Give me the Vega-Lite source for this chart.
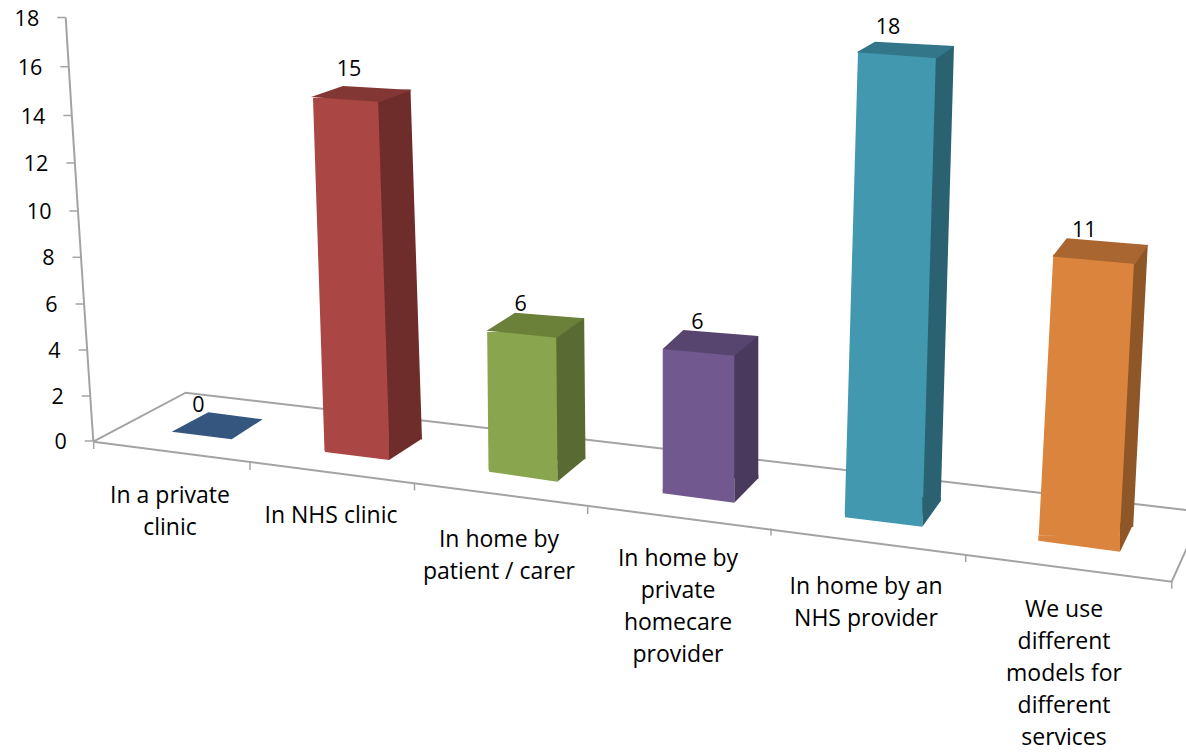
{"$schema":"https://vega.github.io/schema/vega-lite/v6.json","width":1186,"height":752,"padding":0,"autosize":{"type":"none"},"background":"white","config":{"view":{"stroke":null},"text":{"font":"Open Sans","fontSize":21.5,"color":"#000000"}},
"datasets":{
"bars":[
{"model":"private clinic","label":"In a private\nclinic","value":0},
{"model":"nhs clinic","label":"In NHS clinic","value":15},
{"model":"patient","label":"In home by\npatient / carer","value":6},
{"model":"private homecare","label":"In home by\nprivate\nhomecare\nprovider","value":6},
{"model":"nhs provider","label":"In home by an\nNHS provider","value":18},
{"model":"different","label":"We use\ndifferent\nmodels for\ndifferent\nservices","value":11}],
"frame":[{"corner":0},{"corner":1},{"corner":2},{"corner":3},{"corner":4}],
"boundaries":[{"b":0},{"b":1},{"b":2},{"b":3},{"b":4},{"b":5},{"b":6}],
"ticks":[{"t":0},{"t":2},{"t":4},{"t":6},{"t":8},{"t":10},{"t":12},{"t":14},{"t":16},{"t":18}]},
"layer":[
{"data":{"name":"frame"},"mark":{"type":"line","color":"#a3a3a3","strokeWidth":2,"clip":true},"encoding":{"x":{"field":"corner","type":"quantitative","axis":null,"scale":{"domain":[0,1,2,3,4],"range":[93.3,1171.7,1203,185.7,93.3]}},"y":{"field":"corner","type":"quantitative","axis":null,"scale":{"domain":[0,1,2,3,4],"range":[441.7,581.7,512,392.7,441.7]}},"order":{"field":"corner"}}},
{"data":{"name":"boundaries"},"mark":{"type":"point","shape":"M0 0L0 7","size":4,"filled":false,"color":"#a3a3a3","strokeWidth":1.5,"opacity":1},"encoding":{"x":{"field":"b","type":"quantitative","axis":null,"scale":{"domain":[0,1,2,3,4,5,6],"range":[93.7,250,414.5,587.7,771,965.7,1171.7]}},"y":{"field":"b","type":"quantitative","axis":null,"scale":{"domain":[0,1,2,3,4,5,6],"range":[442,463,483.5,507,528.5,555,581.7]}}}},
{"data":{"name":"ticks"},"encoding":{"x":{"field":"t","type":"quantitative","axis":null,"scale":{"domain":[0,18],"range":[93.3,65.7]}},"y":{"field":"t","type":"quantitative","axis":null,"scale":{"domain":[0,2,4,6,8,10,12,14,16,18],"range":[441,396,350,304,257.3,211,163,115.5,66.7,17.5]}}},"layer":[
{"mark":{"type":"line","color":"#a3a3a3","strokeWidth":2},"encoding":{"order":{"field":"t"}}},
{"mark":{"type":"point","shape":"M-8.5 0L0 0","size":4,"filled":false,"color":"#a3a3a3","strokeWidth":1.5,"opacity":1}},
{"mark":{"type":"text","align":"right","baseline":"middle","xOffset":-26.5,"yOffset":2},"encoding":{"text":{"field":"t","type":"quantitative"}}}]},
{"data":{"name":"bars"},"transform":[{"filter":{"field":"model","equal":"private clinic"}}],"encoding":{"x":{"field":"value","type":"quantitative","axis":null,"scale":{"domain":[0,18],"range":[201.7,195]}},"y":{"field":"value","type":"quantitative","axis":null,"scale":{"domain":[0,18],"range":[435.5,12.5]}}},"layer":[
{"mark":{"type":"point","shape":"M-30 -3.8L6.6 -23.2L61 -16.2L30 3.8Z","size":4,"filled":true,"color":"#35577f","opacity":1,"strokeWidth":0}},
{"mark":{"type":"text","align":"center","baseline":"middle","xOffset":-3.4,"yOffset":-30},"encoding":{"text":{"field":"value","type":"quantitative"}}},
{"mark":{"type":"text","align":"center","baseline":"top","fontSize":23,"lineBreak":"\n","lineHeight":32,"xOffset":-31.7,"yOffset":49.5},"encoding":{"text":{"field":"label"}}}]},
{"data":{"name":"bars"},"transform":[{"filter":{"field":"model","equal":"nhs clinic"}}],"encoding":{"x":{"field":"value","type":"quantitative","axis":null,"scale":{"domain":[0,18],"range":[357,343.2]}},"y":{"field":"value","type":"quantitative","axis":null,"scale":{"domain":[0,18],"range":[456,28.2]}}},"layer":[
{"mark":{"type":"rule","color":"#6e2c2a","strokeWidth":34,"xOffset":48,"x2Offset":48,"yOffset":-9.5,"y2Offset":-16},"encoding":{"x2":{"datum":0},"y2":{"datum":0}}},
{"mark":{"type":"rule","color":"#aa4643","strokeWidth":65,"yOffset":-2.5,"y2Offset":-6},"encoding":{"x2":{"datum":0},"y2":{"datum":0}}},
{"mark":{"type":"point","shape":"M32 4L63 -16L63 -20L32 -20Z","size":4,"filled":true,"color":"#6e2c2a","opacity":1,"strokeWidth":0},"encoding":{"x":{"datum":0,"type":"quantitative"},"y":{"datum":0,"type":"quantitative"}}},
{"mark":{"type":"point","shape":"M-32 -4L32 4L32 -8L-32 -8Z","size":4,"filled":true,"color":"#aa4643","opacity":1,"strokeWidth":0},"encoding":{"x":{"datum":0,"type":"quantitative"},"y":{"datum":0,"type":"quantitative"}}},
{"mark":{"type":"point","shape":"M-34.5 -2.5L-2.5 -13.5L66.5 -9.5L34.5 2.5Z","size":4,"filled":true,"color":"#833735","opacity":1,"strokeWidth":0}},
{"mark":{"type":"text","align":"center","baseline":"middle","xOffset":3.5,"yOffset":-30},"encoding":{"text":{"field":"value","type":"quantitative"}}},
{"mark":{"type":"text","align":"center","baseline":"top","fontSize":23,"lineBreak":"\n","lineHeight":32,"xOffset":-26,"yOffset":49},"encoding":{"x":{"datum":0,"type":"quantitative"},"y":{"datum":0,"type":"quantitative"},"text":{"field":"label"}}}]},
{"data":{"name":"bars"},"transform":[{"filter":{"field":"model","equal":"patient"}}],"encoding":{"x":{"field":"value","type":"quantitative","axis":null,"scale":{"domain":[0,18],"range":[523,519]}},"y":{"field":"value","type":"quantitative","axis":null,"scale":{"domain":[0,18],"range":[476.7,48.7]}}},"layer":[
{"mark":{"type":"rule","color":"#596b33","strokeWidth":29,"xOffset":48,"x2Offset":48,"yOffset":-15.7,"y2Offset":-17.4},"encoding":{"x2":{"datum":0},"y2":{"datum":0}}},
{"mark":{"type":"rule","color":"#89a54e","strokeWidth":69,"yOffset":-3,"y2Offset":-7},"encoding":{"x2":{"datum":0},"y2":{"datum":0}}},
{"mark":{"type":"point","shape":"M34.3 5L61.3 -17.4L61.3 -21L34.3 -21Z","size":4,"filled":true,"color":"#596b33","opacity":1,"strokeWidth":0},"encoding":{"x":{"datum":0,"type":"quantitative"},"y":{"datum":0,"type":"quantitative"}}},
{"mark":{"type":"point","shape":"M-34 -5L34.3 5L34.3 -9L-34 -9Z","size":4,"filled":true,"color":"#89a54e","opacity":1,"strokeWidth":0},"encoding":{"x":{"datum":0,"type":"quantitative"},"y":{"datum":0,"type":"quantitative"}}},
{"mark":{"type":"point","shape":"M-35 -3.3L-6.7 -21.3L62.6 -15.7L35 3.7Z","size":4,"filled":true,"color":"#6b8039","opacity":1,"strokeWidth":0}},
{"mark":{"type":"text","align":"center","baseline":"middle","xOffset":-1,"yOffset":-29.5},"encoding":{"text":{"field":"value","type":"quantitative"}}},
{"mark":{"type":"text","align":"center","baseline":"top","fontSize":23,"lineBreak":"\n","lineHeight":32,"xOffset":-24,"yOffset":52.3},"encoding":{"x":{"datum":0,"type":"quantitative"},"y":{"datum":0,"type":"quantitative"},"text":{"field":"label"}}}]},
{"data":{"name":"bars"},"transform":[{"filter":{"field":"model","equal":"private homecare"}}],"encoding":{"x":{"field":"value","type":"quantitative","axis":null,"scale":{"domain":[0,18],"range":[698.5,698.6]}},"y":{"field":"value","type":"quantitative","axis":null,"scale":{"domain":[0,18],"range":[498,61]}}},"layer":[
{"mark":{"type":"rule","color":"#493a5d","strokeWidth":26,"xOffset":46.8,"x2Offset":46.8,"yOffset":-16.3,"y2Offset":-19.7},"encoding":{"x2":{"datum":0},"y2":{"datum":0}}},
{"mark":{"type":"rule","color":"#71588f","strokeWidth":71.5,"yOffset":-3.3,"y2Offset":-7},"encoding":{"x2":{"datum":0},"y2":{"datum":0}}},
{"mark":{"type":"point","shape":"M35.8 4.7L59.8 -19.7L59.8 -23L35.8 -23Z","size":4,"filled":true,"color":"#493a5d","opacity":1,"strokeWidth":0},"encoding":{"x":{"datum":0,"type":"quantitative"},"y":{"datum":0,"type":"quantitative"}}},
{"mark":{"type":"point","shape":"M-35.8 -4.7L35.8 4.7L35.8 -9L-35.8 -9Z","size":4,"filled":true,"color":"#71588f","opacity":1,"strokeWidth":0},"encoding":{"x":{"datum":0,"type":"quantitative"},"y":{"datum":0,"type":"quantitative"}}},
{"mark":{"type":"point","shape":"M-35.8 -3.3L-15.2 -22.3L59.8 -16.3L35.8 3.4Z","size":4,"filled":true,"color":"#58456f","opacity":1,"strokeWidth":0}},
{"mark":{"type":"text","align":"center","baseline":"middle","xOffset":-1.2,"yOffset":-29.5},"encoding":{"text":{"field":"value","type":"quantitative"}}},
{"mark":{"type":"text","align":"center","baseline":"top","fontSize":23,"lineBreak":"\n","lineHeight":32,"xOffset":-20.5,"yOffset":50},"encoding":{"x":{"datum":0,"type":"quantitative"},"y":{"datum":0,"type":"quantitative"},"text":{"field":"label"}}}]},
{"data":{"name":"bars"},"transform":[{"filter":{"field":"model","equal":"nhs provider"}}],"encoding":{"x":{"field":"value","type":"quantitative","axis":null,"scale":{"domain":[0,18],"range":[883.7,897]}},"y":{"field":"value","type":"quantitative","axis":null,"scale":{"domain":[0,18],"range":[522,55.3]}}},"layer":[
{"mark":{"type":"rule","color":"#2a6271","strokeWidth":20,"xOffset":47,"x2Offset":47,"yOffset":-9.3,"y2Offset":-21},"encoding":{"x2":{"datum":0},"y2":{"datum":0}}},
{"mark":{"type":"rule","color":"#4198af","strokeWidth":78,"yOffset":-3,"y2Offset":-7},"encoding":{"x2":{"datum":0},"y2":{"datum":0}}},
{"mark":{"type":"point","shape":"M38.6 4.7L57 -21L57 -25L38.6 -25Z","size":4,"filled":true,"color":"#2a6271","opacity":1,"strokeWidth":0},"encoding":{"x":{"datum":0,"type":"quantitative"},"y":{"datum":0,"type":"quantitative"}}},
{"mark":{"type":"point","shape":"M-38.7 -4.7L38.6 4.7L38.6 -9L-38.7 -9Z","size":4,"filled":true,"color":"#4198af","opacity":1,"strokeWidth":0},"encoding":{"x":{"datum":0,"type":"quantitative"},"y":{"datum":0,"type":"quantitative"}}},
{"mark":{"type":"point","shape":"M-40.3 -3L-22 -13.6L57.3 -9.3L40.3 3Z","size":4,"filled":true,"color":"#33768a","opacity":1,"strokeWidth":0}},
{"mark":{"type":"text","align":"center","baseline":"middle","xOffset":-9,"yOffset":-27.5},"encoding":{"text":{"field":"value","type":"quantitative"}}},
{"mark":{"type":"text","align":"center","baseline":"top","fontSize":23,"lineBreak":"\n","lineHeight":32,"xOffset":-17.7,"yOffset":54},"encoding":{"x":{"datum":0,"type":"quantitative"},"y":{"datum":0,"type":"quantitative"},"text":{"field":"label"}}}]},
{"data":{"name":"bars"},"transform":[{"filter":{"field":"model","equal":"different"}}],"encoding":{"x":{"field":"value","type":"quantitative","axis":null,"scale":{"domain":[0,18],"range":[1079.2,1103]}},"y":{"field":"value","type":"quantitative","axis":null,"scale":{"domain":[0,18],"range":[546.2,78.2]}}},"layer":[
{"mark":{"type":"rule","color":"#8f5628","strokeWidth":15,"xOffset":46.5,"x2Offset":46.5,"yOffset":-15.3,"y2Offset":-19.5},"encoding":{"x2":{"datum":0},"y2":{"datum":0}}},
{"mark":{"type":"rule","color":"#db843d","strokeWidth":81,"yOffset":-3.6,"y2Offset":-9},"encoding":{"x2":{"datum":0},"y2":{"datum":0}}},
{"mark":{"type":"point","shape":"M40.8 5.5L52.8 -19.5L52.8 -23L40.8 -23Z","size":4,"filled":true,"color":"#8f5628","opacity":1,"strokeWidth":0},"encoding":{"x":{"datum":0,"type":"quantitative"},"y":{"datum":0,"type":"quantitative"}}},
{"mark":{"type":"point","shape":"M-40.9 -5.5L40.8 5.5L40.8 -11L-40.9 -11Z","size":4,"filled":true,"color":"#db843d","opacity":1,"strokeWidth":0},"encoding":{"x":{"datum":0,"type":"quantitative"},"y":{"datum":0,"type":"quantitative"}}},
{"mark":{"type":"point","shape":"M-41.4 -3.6L-27 -22L54.6 -15.3L41.3 3.7Z","size":4,"filled":true,"color":"#a96630","opacity":1,"strokeWidth":0}},
{"mark":{"type":"text","align":"center","baseline":"middle","xOffset":-9.4,"yOffset":-29},"encoding":{"text":{"field":"value","type":"quantitative"}}},
{"mark":{"type":"text","align":"center","baseline":"top","fontSize":23,"lineBreak":"\n","lineHeight":32,"xOffset":-15.2,"yOffset":52.8},"encoding":{"x":{"datum":0,"type":"quantitative"},"y":{"datum":0,"type":"quantitative"},"text":{"field":"label"}}}]}
],
"resolve":{"scale":{"x":"independent","y":"independent"}}}
